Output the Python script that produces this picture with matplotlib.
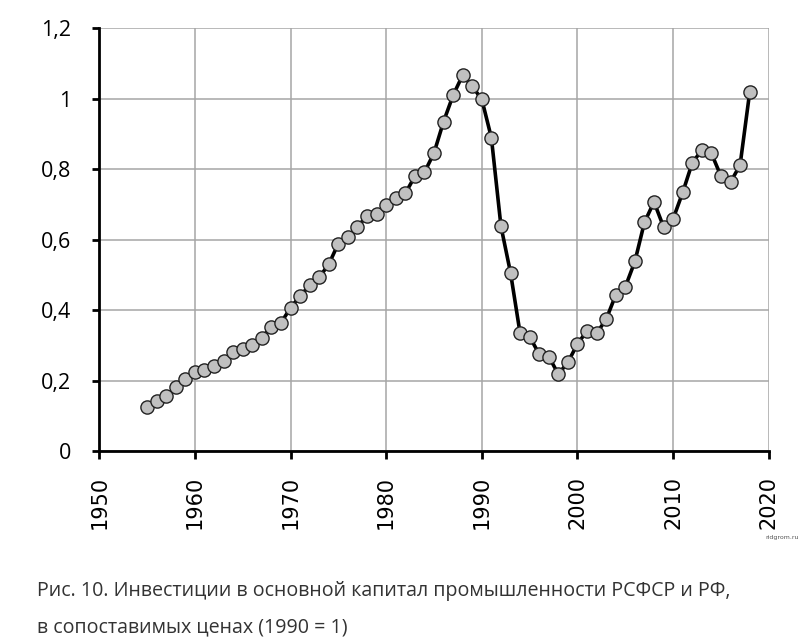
import numpy as np
import matplotlib
matplotlib.use("Agg")
import matplotlib.pyplot as plt
from matplotlib.ticker import FuncFormatter

# данные: инвестиции в основной капитал (1990 = 1)
years = np.arange(1955, 2019)
invest = [0.124, 0.142, 0.156, 0.181, 0.204, 0.225, 0.230, 0.241, 0.255, 0.282,
          0.289, 0.301, 0.321, 0.353, 0.364, 0.406, 0.440, 0.470, 0.493, 0.530,
          0.589, 0.608, 0.636, 0.668, 0.672, 0.698, 0.717, 0.731, 0.780, 0.791,
          0.846, 0.935, 1.010, 1.067, 1.035, 0.998, 0.889, 0.638, 0.506, 0.334,
          0.324, 0.275, 0.268, 0.218, 0.252, 0.304, 0.341, 0.334, 0.374, 0.443,
          0.466, 0.538, 0.649, 0.707, 0.636, 0.659, 0.734, 0.818, 0.854, 0.845,
          0.780, 0.763, 0.812, 1.018]
x_ticks = [1950, 1960, 1970, 1980, 1990, 2000, 2010, 2020]
y_ticks = [0, 0.2, 0.4, 0.6, 0.8, 1.0, 1.2]
caption = ["Рис. 10. Инвестиции в основной капитал промышленности РСФСР и РФ,",
           "в сопоставимых ценах (1990 = 1)"]

fig = plt.figure(figsize=(8, 6.42), dpi=100)
ax = fig.add_axes([0.124, 0.2975, 0.837, 0.6585])

ax.plot(years, invest, color="black", lw=2.6, marker="o", ms=9.5,
        mfc="#c0c0c0", mec="#222222", mew=1.0, zorder=3)

ax.set_xlim(1950, 2020)
ax.set_ylim(0, 1.2)
ax.set_xticks(x_ticks)
ax.set_yticks(y_ticks)
ax.grid(True, color="#a6a6a6", lw=1.1)
ax.set_axisbelow(True)

def fmt(v, pos):
    s = "%g" % round(v, 1)
    return s.replace(".", ",")
ax.yaxis.set_major_formatter(FuncFormatter(fmt))

for s in ["top", "right"]:
    ax.spines[s].set_visible(False)
for s in ["left", "bottom"]:
    ax.spines[s].set_linewidth(2.0)
    ax.spines[s].set_color("black")

ax.tick_params(axis="y", direction="out", length=5, width=2, pad=15,
               labelsize=15.5)
ax.tick_params(axis="x", direction="out", length=6, width=2, pad=12,
               labelsize=15, labelrotation=90)
for lab in ax.get_yticklabels():
    lab.set_fontfamily("Open Sans")
for lab in ax.get_xticklabels():
    lab.set_fontfamily("DejaVu Sans")

fig.text(0.999, 0.162, "ridgrom.ru", fontsize=4.5, color="#555555",
         ha="right", va="center")
fig.text(0.046, 0.0717, caption[0], fontsize=14.1, color="#333333",
         family="Open Sans", va="baseline")
fig.text(0.046, 0.0156, caption[1], fontsize=14.1, color="#333333",
         family="Open Sans", va="baseline")

fig.savefig("out.png", dpi=100, facecolor="white")
